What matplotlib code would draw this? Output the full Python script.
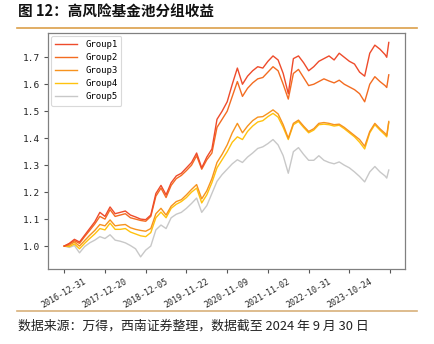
import matplotlib
matplotlib.use("Agg")
import matplotlib.pyplot as plt
from matplotlib.lines import Line2D

# trading-day index of each sampled observation (daily series, 2016-12-31 .. 2024-09-30)
day_index = list(range(0, 1891, 30)) + [1900, 1912]

group1 = [1.000, 1.010, 1.025, 1.015, 1.040, 1.065, 1.090, 1.125, 1.110, 1.145,
          1.120, 1.125, 1.130, 1.115, 1.108, 1.100, 1.098, 1.115, 1.195, 1.225,
          1.190, 1.235, 1.260, 1.270, 1.290, 1.310, 1.345, 1.290, 1.330, 1.360,
          1.470, 1.500, 1.535, 1.600, 1.660, 1.600, 1.630, 1.650, 1.665, 1.660,
          1.685, 1.705, 1.690, 1.640, 1.565, 1.695, 1.705, 1.680, 1.650, 1.665,
          1.685, 1.695, 1.705, 1.690, 1.715, 1.700, 1.685, 1.675, 1.645, 1.630,
          1.715, 1.745, 1.730, 1.710, 1.700, 1.755]
group2 = [1.000, 1.008, 1.020, 1.010, 1.035, 1.058, 1.082, 1.110, 1.100, 1.135,
          1.110, 1.115, 1.120, 1.105, 1.100, 1.095, 1.092, 1.110, 1.185, 1.215,
          1.180, 1.225, 1.250, 1.262, 1.280, 1.300, 1.335, 1.285, 1.320, 1.345,
          1.440, 1.470, 1.500, 1.555, 1.610, 1.555, 1.585, 1.605, 1.620, 1.625,
          1.645, 1.665, 1.650, 1.600, 1.545, 1.640, 1.655, 1.625, 1.595, 1.600,
          1.610, 1.620, 1.612, 1.605, 1.615, 1.600, 1.590, 1.580, 1.565, 1.535,
          1.600, 1.628, 1.610, 1.595, 1.588, 1.635]
group3 = [1.000, 1.003, 1.015, 1.000, 1.020, 1.040, 1.058, 1.080, 1.075, 1.097,
          1.075, 1.078, 1.080, 1.068, 1.062, 1.058, 1.055, 1.065, 1.120, 1.140,
          1.115, 1.148, 1.165, 1.172, 1.190, 1.210, 1.228, 1.175, 1.205, 1.250,
          1.310, 1.340, 1.375, 1.420, 1.455, 1.420, 1.445, 1.465, 1.478, 1.480,
          1.492, 1.505, 1.490, 1.450, 1.400, 1.455, 1.467, 1.445, 1.425, 1.435,
          1.455, 1.458, 1.455, 1.450, 1.452, 1.440, 1.425, 1.410, 1.395, 1.370,
          1.425, 1.455, 1.435, 1.418, 1.410, 1.462]
group4 = [1.000, 0.998, 1.008, 0.990, 1.010, 1.028, 1.045, 1.065, 1.060, 1.085,
          1.062, 1.062, 1.065, 1.052, 1.045, 1.038, 1.035, 1.050, 1.105, 1.126,
          1.105, 1.140, 1.155, 1.165, 1.180, 1.200, 1.215, 1.160, 1.190, 1.235,
          1.290, 1.320, 1.350, 1.385, 1.405, 1.395, 1.425, 1.445, 1.460, 1.465,
          1.480, 1.492, 1.478, 1.440, 1.395, 1.450, 1.462, 1.440, 1.420, 1.430,
          1.450, 1.452, 1.450, 1.445, 1.448, 1.435, 1.420, 1.405, 1.385, 1.360,
          1.420, 1.450, 1.430, 1.412, 1.405, 1.458]
group5 = [1.000, 0.995, 1.002, 0.975, 0.998, 1.012, 1.022, 1.035, 1.028, 1.042,
          1.022, 1.018, 1.012, 1.002, 0.990, 0.960, 0.985, 1.000, 1.060, 1.078,
          1.065, 1.105, 1.118, 1.125, 1.140, 1.158, 1.178, 1.125, 1.150, 1.195,
          1.240, 1.265, 1.285, 1.305, 1.320, 1.310, 1.330, 1.345, 1.362, 1.368,
          1.380, 1.395, 1.375, 1.335, 1.270, 1.350, 1.365, 1.340, 1.318, 1.318,
          1.335, 1.318, 1.310, 1.305, 1.312, 1.300, 1.290, 1.275, 1.258, 1.238,
          1.275, 1.295, 1.275, 1.260, 1.252, 1.282]

series_names = ["Group1", "Group2", "Group3", "Group4", "Group5"]
series_values = [group1, group2, group3, group4, group5]
series_colors = ["#EE4B2B", "#F36C21", "#F7931E", "#FFC20E", "#C8C8C8"]

tick_positions = list(range(0, 1921, 240))
tick_labels = ["2016-12-31", "2017-12-20", "2018-12-05", "2019-11-22",
               "2020-11-09", "2021-11-02", "2022-10-31", "2023-10-24", ""]
y_ticks = [1.0, 1.1, 1.2, 1.3, 1.4, 1.5, 1.6, 1.7]

title_text = "图 12：高风险基金池分组收益"
source_text = "数据来源：万得，西南证券整理，数据截至 2024 年 9 月 30 日"

cjk = ["Noto Sans CJK SC", "DejaVu Sans"]
mono = ["DejaVu Sans Mono"]

fig = plt.figure(figsize=(4.34, 3.44), dpi=100)
ax = fig.add_axes([48 / 434, 75 / 344, 357 / 434, 236 / 344])

# draw from the weakest group up so the top group sits above
for name, vals, col in list(zip(series_names, series_values, series_colors))[::-1]:
    ax.plot(day_index, vals, color=col, lw=1.0, label=name)

ax.set_ylim(0.915, 1.79)
ax.set_yticks(y_ticks)
ax.set_yticklabels([f"{v:.1f}" for v in y_ticks], family=mono, fontsize=6.8)
ax.set_xticks(tick_positions)
ax.set_xticklabels(tick_labels, family=mono, fontsize=6.0, rotation=30, ha="center")
ax.tick_params(axis="both", direction="out", length=3, width=0.8,
               color="#555555", labelcolor="#222222", pad=2.5)
for sp in ax.spines.values():
    sp.set_color("#808080")
    sp.set_linewidth(0.9)

handles = [Line2D([0], [0], color=c, lw=1.0) for c in series_colors]
leg = ax.legend(handles, series_names, loc="upper left", prop={"family": mono, "size": 6.5},
                handlelength=2.4, labelspacing=0.45, borderpad=0.45,
                handletextpad=0.9, frameon=True, fancybox=True,
                bbox_to_anchor=(0.0, 1.0), borderaxespad=0.35)
leg.get_frame().set_edgecolor("#D0D0D0")
leg.get_frame().set_linewidth(0.8)

fig.text(18 / 434, 1 - 12 / 344, title_text, family=cjk, fontsize=10.5,
         fontweight="bold", va="center", ha="left", color="#111111")
fig.add_artist(Line2D([17 / 434, 417 / 434], [1 - 28 / 344, 1 - 28 / 344],
                      color="#DCA04A", lw=1.2, transform=fig.transFigure))
fig.add_artist(Line2D([17 / 434, 417 / 434], [1 - 311 / 344, 1 - 311 / 344],
                      color="#D8B07A", lw=1.2, transform=fig.transFigure))
fig.text(18 / 434, 1 - 326 / 344, source_text, family=cjk, fontsize=9.3,
         va="center", ha="left", color="#222222", style="italic")

fig.savefig("out.png", dpi=100)
